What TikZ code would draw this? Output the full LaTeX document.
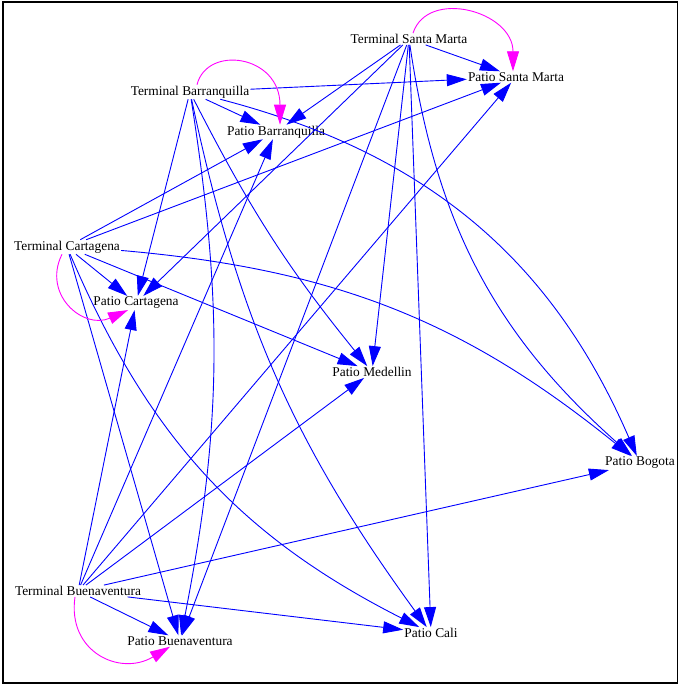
\documentclass[tikz,border=0pt]{standalone}
\usepackage{fontspec}
\setmainfont{Liberation Serif}
\usetikzlibrary{arrows.meta}
\definecolor{edgeblue}{RGB}{0,0,255}
\definecolor{loopmag}{RGB}{255,0,255}
\begin{document}
\begin{tikzpicture}[x=1pt,y=1pt,
  lbl/.style={inner sep=1pt, font=\fontsize{13.4}{15}\selectfont},
  flow/.style={draw=edgeblue, line width=0.9pt, -{Triangle[length=20pt,width=12pt]}},
  selfloop/.style={draw=loopmag, line width=0.9pt, -{Triangle[length=20pt,width=12pt]}}]
\useasboundingbox (0,0) rectangle (679,-685);
\draw[line width=1.5pt] (3,-2) rectangle (677.5,-683);

\node[lbl] (tsm) at (409,-39) {Terminal Santa Marta};
\node[lbl] (psm) at (516,-77) {Patio Santa Marta};
\node[lbl] (tb)  at (190,-92) {Terminal Barranquilla};
\node[lbl] (pb)  at (276,-132) {Patio Barranquilla};
\node[lbl] (tc)  at (67,-247) {Terminal Cartagena};
\node[lbl] (pc)  at (136,-303) {Patio Cartagena};
\node[lbl] (pm)  at (372,-372) {Patio Medellin};
\node[lbl] (pbo) at (640,-463) {Patio Bogota};
\node[lbl] (tbu) at (78,-591) {Terminal Buenaventura};
\node[lbl] (pbu) at (180,-641) {Patio Buenaventura};
\node[lbl] (pca) at (431,-633) {Patio Cali};

% Terminal Santa Marta
\draw[flow] (tsm) -- (psm);
\draw[flow] (tsm) -- (pb);
\draw[flow] (tsm) -- (pc);
\draw[flow] (tsm) -- (pm);
\draw[flow] (tsm) to[bend right=20] (pbo);
\draw[flow] (tsm) -- (pca);
\draw[flow] (tsm) -- (pbu);

% Terminal Barranquilla
\draw[flow] (tb) -- (psm);
\draw[flow] (tb) -- (pb);
\draw[flow] (tb) -- (pc);
\draw[flow] (tb) to[bend right=6] (pm);
\draw[flow] (tb) to[bend left=26] (pbo);
\draw[flow] (tb) to[bend right=12] (pca);
\draw[flow] (tb) to[bend left=10] (pbu);

% Terminal Cartagena
\draw[flow] (tc) -- (psm);
\draw[flow] (tc) -- (pb);
\draw[flow] (tc) -- (pc);
\draw[flow] (tc) -- (pm);
\draw[flow] (tc) to[bend left=17] (pbo);
\draw[flow] (tc) to[bend right=20] (pca);
\draw[flow] (tc) -- (pbu);

% Terminal Buenaventura
\draw[flow] (tbu) -- (psm);
\draw[flow] (tbu) -- (pb);
\draw[flow] (tbu) -- (pc);
\draw[flow] (tbu) -- (pm);
\draw[flow] (tbu) -- (pbo);
\draw[flow] (tbu) -- (pca);
\draw[flow] (tbu) -- (pbu);

% self loops
\draw[selfloop] ([xshift=4pt]tsm.north) .. controls +(15,45) and +(0,60) .. ([xshift=-3pt]psm.north);
\draw[selfloop] ([xshift=7pt]tb.north) .. controls +(10,40) and +(0,70) .. ([xshift=4pt]pb.north);
\draw[selfloop] ([xshift=-5pt]tc.south) .. controls +(-20,-40) and +(-45,-20) .. ([xshift=-8pt]pc.south);
\draw[selfloop] ([xshift=-3pt]tbu.south) .. controls +(-8,-55) and +(-50,-30) .. ([xshift=-10pt]pbu.south);
\end{tikzpicture}
\end{document}
